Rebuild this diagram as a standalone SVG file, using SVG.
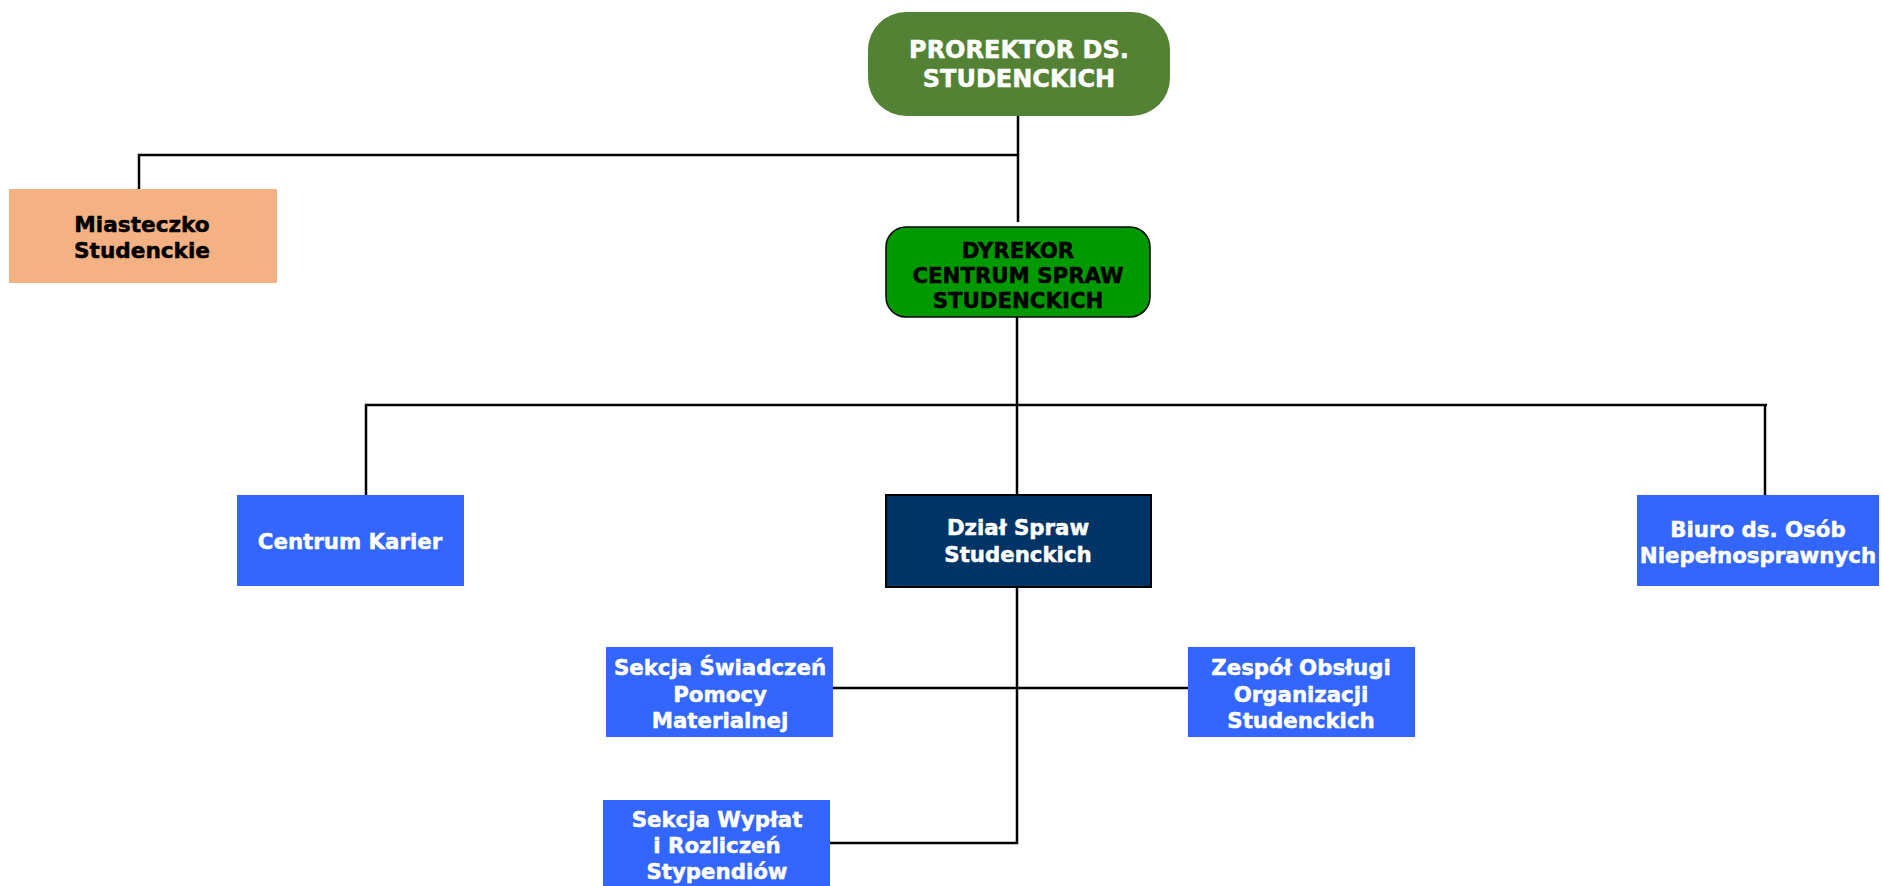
<svg xmlns="http://www.w3.org/2000/svg" width="1883" height="886" viewBox="0 0 1883 886">
<style>
text{font-family:"DejaVu Sans","Verdana",sans-serif;font-weight:bold;text-anchor:middle;font-size:21.3px;stroke-width:0.5px}
.w{fill:#ffffff;stroke:#ffffff}
.k{fill:#000000;stroke:#000000}
.blue{fill:#3366FF}
.conn{stroke:#000;stroke-width:2.5;fill:none}
</style>
<rect width="1883" height="886" fill="#ffffff"/>
<g id="connectors" class="conn">
<path d="M1018 116 V222"/>
<path d="M139 192 V155 H1018"/>
<path d="M1017 317 V495"/>
<path d="M366 495 V405 H1767"/>
<path d="M1765 405 V495"/>
<path d="M1017 587 V843 H827"/>
<path d="M833 688 H1188"/>
</g>
<g id="prorektor">
<rect x="868" y="12" width="302" height="104" rx="38" fill="#548235"/>
<text class="w" x="1019" y="58" style="font-size:24px">PROREKTOR DS.</text>
<text class="w" x="1019" y="87" style="font-size:24px">STUDENCKICH</text>
</g>
<g id="miasteczko">
<rect x="9" y="189" width="268" height="94" fill="#F4B183"/>
<text class="k" x="142" y="232" style="font-size:21.6px">Miasteczko</text>
<text class="k" x="142" y="258" style="font-size:21.6px">Studenckie</text>
</g>
<g id="dyrekor">
<rect x="886" y="227" width="264" height="90" rx="20" fill="#009900" stroke="#000" stroke-width="1.5"/>
<text class="k" x="1018" y="258">DYREKOR</text>
<text class="k" x="1018" y="283">CENTRUM SPRAW</text>
<text class="k" x="1018" y="308">STUDENCKICH</text>
</g>
<g id="centrum-karier">
<rect class="blue" x="237" y="495" width="227" height="91"/>
<text class="w" x="350" y="549">Centrum Karier</text>
</g>
<g id="dzial">
<rect x="886" y="495" width="265" height="92" fill="#003366" stroke="#000" stroke-width="2"/>
<text class="w" x="1018" y="535">Dział Spraw</text>
<text class="w" x="1018" y="562">Studenckich</text>
</g>
<g id="biuro">
<rect class="blue" x="1637" y="495" width="242" height="91"/>
<text class="w" x="1758" y="537">Biuro ds. Osób</text>
<text class="w" x="1758" y="563">Niepełnosprawnych</text>
</g>
<g id="sekcja-swiadczen">
<rect class="blue" x="606" y="647" width="227" height="90"/>
<text class="w" x="720" y="675">Sekcja Świadczeń</text>
<text class="w" x="720" y="702">Pomocy</text>
<text class="w" x="720" y="728">Materialnej</text>
</g>
<g id="zespol">
<rect class="blue" x="1188" y="647" width="227" height="90"/>
<text class="w" x="1301" y="675">Zespół Obsługi</text>
<text class="w" x="1301" y="702">Organizacji</text>
<text class="w" x="1301" y="728">Studenckich</text>
</g>
<g id="sekcja-wyplat">
<rect class="blue" x="603" y="800" width="227" height="86"/>
<text class="w" x="717" y="827">Sekcja Wypłat</text>
<text class="w" x="717" y="853">i Rozliczeń</text>
<text class="w" x="717" y="879">Stypendiów</text>
</g>
</svg>
